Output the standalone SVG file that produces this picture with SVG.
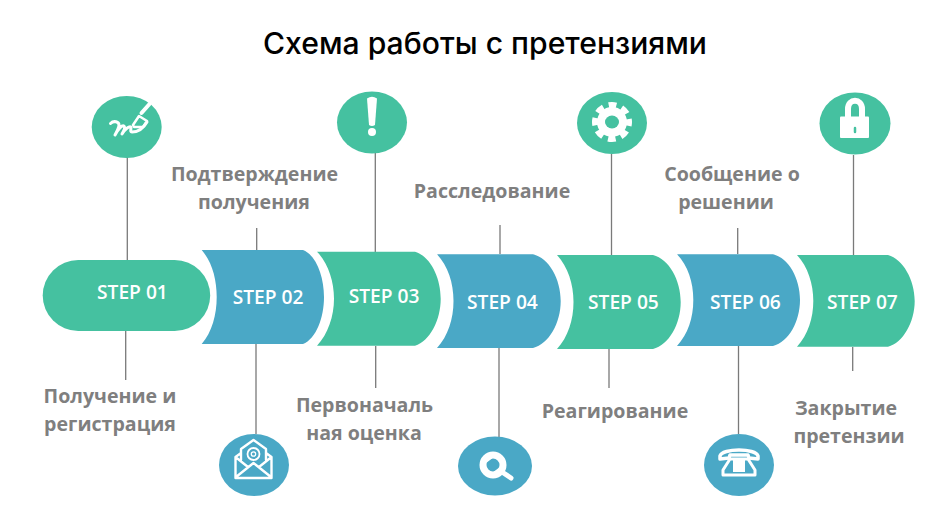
<svg xmlns="http://www.w3.org/2000/svg" width="935" height="525" viewBox="0 0 935 525">
<style>
.g{fill:#45c1a0}.b{fill:#4aa8c6}
.st{font:600 19.200px "Open Sans","Liberation Sans",sans-serif;fill:#fff}
.lb{font:700 19.600px "Open Sans","Liberation Sans",sans-serif;fill:#7f7f7f;text-anchor:middle}
.ln{stroke:#7a7a7a;stroke-width:1.3;fill:none}
.w{fill:#fff}.ws{stroke:#fff;fill:none;stroke-linecap:round;stroke-linejoin:round}
</style>
<rect width="935" height="525" fill="#fff"/>
<text id="title" x="485" y="54" text-anchor="middle" style="font:500 30px Inter,'Noto Sans','Liberation Sans',sans-serif;fill:#000" textLength="444" lengthAdjust="spacingAndGlyphs">Схема работы с претензиями</text>
<g id="connectors" class="ln">
<path d="M127.300 157V260M125.700 331V380"/>
<path d="M256.700 228V250M256 344V434"/>
<path d="M375.300 153V252M375.700 346V388"/>
<path d="M500 225V254M499 348V437"/>
<path d="M611.500 154V255M609 349V388"/>
<path d="M737.700 228V254M738.500 346V434"/>
<path d="M853.500 155V255M852.700 347V371"/>
</g>
<g id="step-01">
<rect class="g" x="42.700" y="260" width="167.500" height="71" rx="35.500"/>
<text class="st" x="97" y="299">STEP 01</text>
<text class="lb" x="110" y="403">Получение и</text><text class="lb" x="110" y="431">регистрация</text>
<ellipse class="g" cx="126.700" cy="127" rx="35" ry="31"/>
<path class="ws" stroke-width="3" d="M110.500 123.500C114 120 119 122 119 125C119 128 116 133 115 135C118 129 122 125 124 126C126 128 123 132 122 134C125 129 129 126 131 127C131 130 130 132 132 132C137 132 143 129 147 122"/>
<path class="ws" stroke-width="4" d="M149.500 104L141.500 113"/>
<path class="ws" stroke-width="2.500" d="M139 116L147 121L143 127L134 127L133 125Z"/>
</g>
<g id="step-02">
<path class="b" d="M201.700 250H303C316 255 324 276 324 297C324 318 316 339 303 344H201.700C212 332 216.700 315 216.700 297C216.700 279 212 262 201.700 250Z"/>
<text class="st" x="232.700" y="304">STEP 02</text>
<text class="lb" x="254.500" y="181">Подтверждение</text><text class="lb" x="254" y="209">получения</text>
<ellipse class="b" cx="254" cy="465" rx="35" ry="31"/>
<path class="ws" stroke-width="2.400" d="M241 453L235.500 457V478H271.500V457L266 453M235.500 457L248 467M271.500 457L259 467M236 477L253.500 463L271 477M241 460V449L253.500 440L266 449V460"/>
<circle class="ws" cx="253.500" cy="454" r="6" stroke-width="1.800"/><circle class="ws" cx="253.500" cy="454" r="2.200" stroke-width="1.300"/>
</g>
<g id="step-03">
<path class="g" d="M317 251.700H415C430 256 440.700 277 440.700 298.700C440.700 320 430 341 415 345.700H317C328 334 334 316 334 298.700C334 281 328 263 317 251.700Z"/>
<text class="st" x="348.700" y="303">STEP 03</text>
<text class="lb" x="364.500" y="412">Первоначаль</text><text class="lb" x="364" y="440">ная оценка</text>
<ellipse class="g" cx="372" cy="122.500" rx="35" ry="31"/>
<path class="w" d="M367 98.500Q372 95 377 98.500L375 125Q372 127 369 125Z"/><circle class="w" cx="372" cy="132" r="4"/>
</g>
<g id="step-04">
<path class="b" d="M437 254.300H533C549 258 560.700 279 560.700 301C560.700 323 549 344 533 348H437C448 336 453.500 319 453.500 301C453.500 283 448 266 437 254.300Z"/>
<text class="st" x="467" y="309">STEP 04</text>
<text class="lb" x="492" y="198">Расследование</text>
<ellipse class="b" cx="495" cy="466" rx="37" ry="29.500"/>
<circle class="ws" cx="493" cy="465" r="10" stroke-width="7"/><path class="ws" stroke-width="5" d="M502 472L511 478"/>
<path class="ws" stroke-width="3.500" d="M487 460L491 457M499 470L495 473"/>
</g>
<g id="step-05">
<path class="g" d="M557 255H653C669 259 680.700 280 680.700 302C680.700 324 669 345 653 349H557C568 337 573.500 320 573.500 302C573.500 284 568 267 557 255Z"/>
<text class="st" x="588" y="309">STEP 05</text>
<text class="lb" x="615" y="418">Реагирование</text>
<ellipse class="g" cx="612" cy="123" rx="35" ry="31"/>
<g transform="translate(612 122)"><circle class="w" r="15"/><circle r="16.500" fill="none" stroke="#fff" stroke-width="7" stroke-dasharray="7.500 5.460" stroke-dashoffset="3.750"/><ellipse class="g" rx="7" ry="6.500"/></g>
</g>
<g id="step-06">
<path class="b" d="M677 254.300H773C789 258 800 279 800 300C800 321 789 342 773 346H677C688 334 693.300 318 693.300 300C693.300 282 688 266 677 254.300Z"/>
<text class="st" x="710" y="309">STEP 06</text>
<text class="lb" x="732" y="181">Сообщение о</text><text class="lb" x="726" y="209">решении</text>
<ellipse class="b" cx="739" cy="465" rx="35" ry="31"/>
<path class="ws" stroke-width="3.500" d="M720 456C722 448 756 448 758 456L758 459L749 458L748 455H730L729 458L720 459Z"/>
<path class="ws" stroke-width="3" d="M730 459L723 470V475H755V470L748 459Z"/>
<rect class="w" x="733" y="460" width="12" height="12"/>
</g>
<g id="step-07">
<path class="g" d="M797 255H888C903 259 914.700 280 914.700 301C914.700 322 903 343 888 346.700H797C808 335 813.300 318 813.300 301C813.300 284 808 267 797 255Z"/>
<text class="st" x="827" y="309">STEP 07</text>
<text class="lb" x="846" y="415">Закрытие</text><text class="lb" x="849" y="443">претензии</text>
<ellipse class="g" cx="855" cy="123.500" rx="35.500" ry="31"/>
<path class="ws" stroke-width="6" d="M848 118V109C848 98 862 98 862 109V118"/>
<rect class="w" x="840" y="116.500" width="29" height="21.500" rx="1"/>
<path stroke="#45c1a0" stroke-width="2.500" stroke-linecap="round" d="M855 128V132"/>
</g>
</svg>
